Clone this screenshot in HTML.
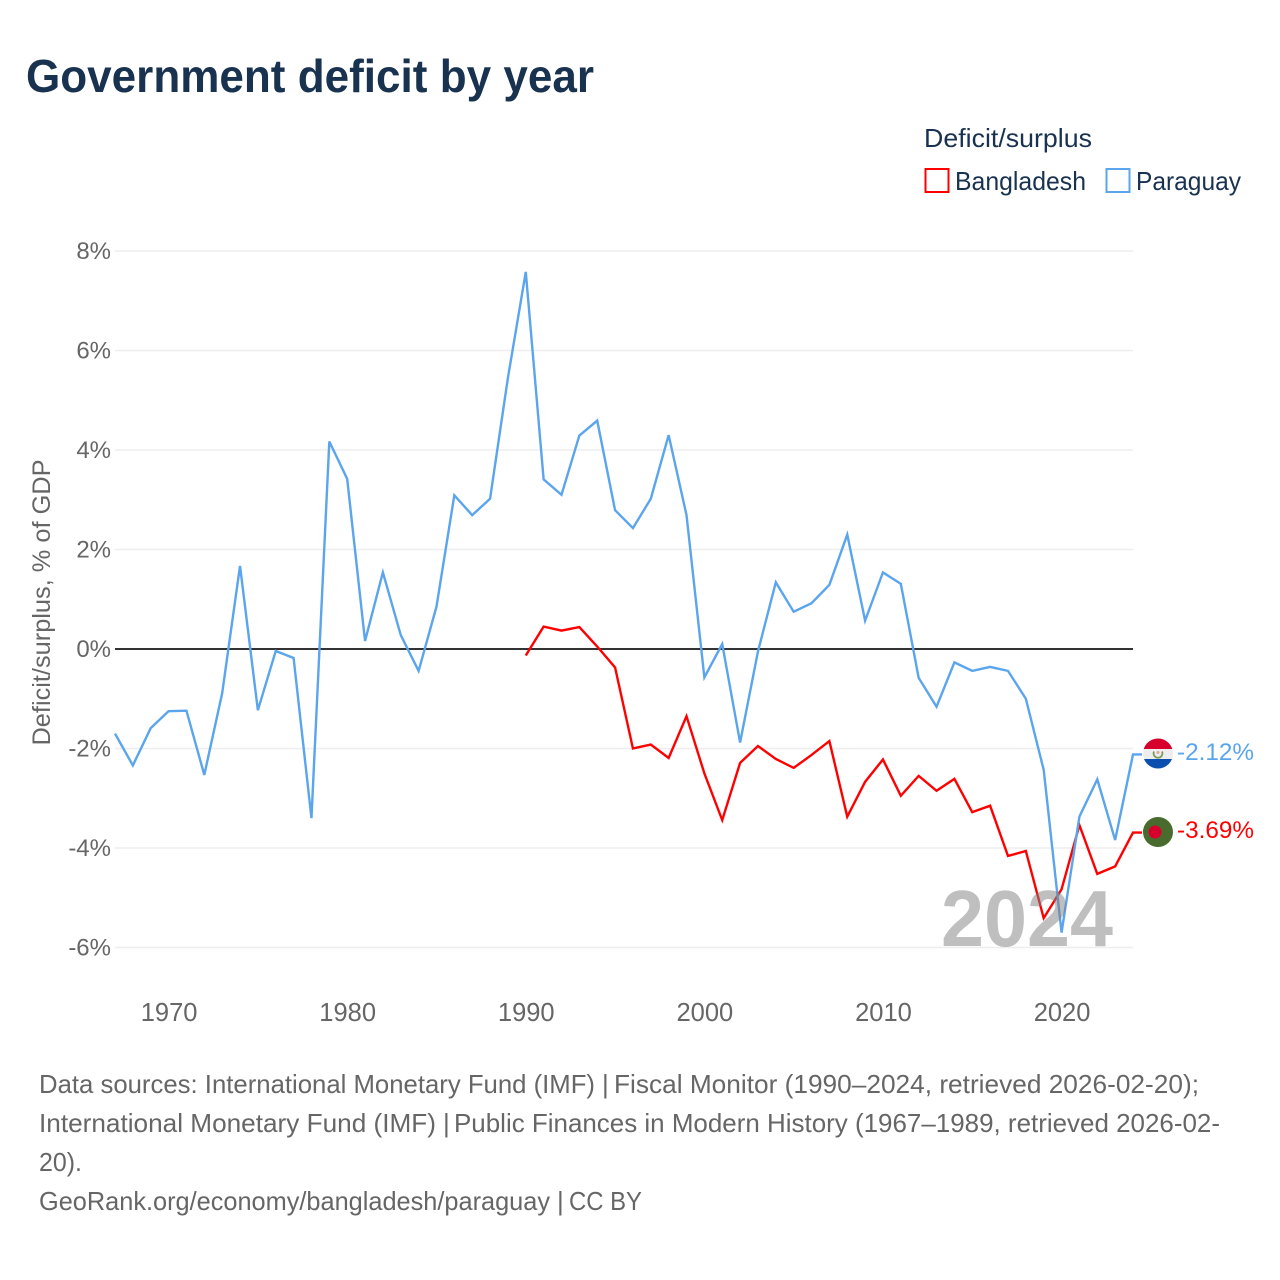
<!DOCTYPE html>
<html lang="en">
<head>
<meta charset="utf-8">
<title>Government deficit by year</title>
<style>
html,body{margin:0;padding:0;background:#fff;}
svg{display:block;font-family:"Liberation Sans",sans-serif;}
</style>
</head>
<body>
<svg id="chart" xmlns="http://www.w3.org/2000/svg" width="1280" height="1280" viewBox="0 0 1280 1280">
  <defs>
    <clipPath id="clip-py"><circle cx="1158" cy="753.5" r="15"/></clipPath>
  </defs>
  <rect x="0" y="0" width="1280" height="1280" fill="#fff"/>
  <text x="26" y="92" font-size="46" font-weight="700" fill="#18324f" textLength="568" lengthAdjust="spacingAndGlyphs">Government deficit by year</text>

  <text x="924" y="147" font-size="26" fill="#18324f" textLength="168" lengthAdjust="spacingAndGlyphs">Deficit/surplus</text>
  <g>
    <rect x="925.5" y="169" width="23" height="23" fill="#fff" stroke="#ff0000" stroke-width="2"/>
    <text x="955" y="190" font-size="26" fill="#18324f" textLength="131" lengthAdjust="spacingAndGlyphs">Bangladesh</text>
  </g>
  <g>
    <rect x="1106.5" y="169" width="23" height="23" fill="#fff" stroke="#5aa5ed" stroke-width="2"/>
    <text x="1136" y="190" font-size="26" fill="#18324f" textLength="105" lengthAdjust="spacingAndGlyphs">Paraguay</text>
  </g>

  <g id="grid"></g>
  <g id="ytick"></g>
  <g id="xtick"></g>
  <text transform="translate(50,602.5) rotate(-90)" text-anchor="middle" font-size="25" fill="#666" textLength="286" lengthAdjust="spacingAndGlyphs">Deficit/surplus, % of GDP</text>

  <g id="series"></g>

  <text x="941" y="946" font-size="80" font-weight="700" fill="#808080" fill-opacity="0.5" textLength="172" lengthAdjust="spacingAndGlyphs">2024</text>

  <g clip-path="url(#clip-py)">
    <rect x="1143" y="738" width="30" height="11" fill="#d7002c"/>
    <rect x="1143" y="749" width="30" height="10" fill="#eeeeee"/>
    <rect x="1143" y="759" width="30" height="11" fill="#0a4fae"/>
    <path d="M1154 751.5 A4.4 4.4 0 1 0 1162 751.5" fill="none" stroke="#7d9a5a" stroke-width="1.8"/>
    <circle cx="1158" cy="752.5" r="1.5" fill="#e8a0a0"/>
  </g>
  <g>
    <circle cx="1158" cy="832" r="15" fill="#4a6b2e"/>
    <circle cx="1155" cy="832" r="6.5" fill="#d7002c"/>
  </g>

  <text x="1177" y="760" font-size="24.5" fill="#5aa5ed" textLength="77" lengthAdjust="spacingAndGlyphs">-2.12%</text>
  <text x="1177" y="838" font-size="24.5" fill="#ff0000" textLength="77" lengthAdjust="spacingAndGlyphs">-3.69%</text>

  <g font-size="26" fill="#666">
    <text x="39" y="1093" textLength="556" lengthAdjust="spacingAndGlyphs">Data sources: International Monetary Fund (IMF)</text>
    <text x="602" y="1093">|</text>
    <text x="614" y="1093" textLength="585" lengthAdjust="spacingAndGlyphs">Fiscal Monitor (1990–2024, retrieved 2026-02-20);</text>
    <text x="39" y="1132" textLength="397" lengthAdjust="spacingAndGlyphs">International Monetary Fund (IMF)</text>
    <text x="443" y="1132">|</text>
    <text x="454" y="1132" textLength="766" lengthAdjust="spacingAndGlyphs">Public Finances in Modern History (1967–1989, retrieved 2026-02-</text>
    <text x="39" y="1171" textLength="43" lengthAdjust="spacingAndGlyphs">20).</text>
    <text x="39" y="1210" textLength="511" lengthAdjust="spacingAndGlyphs">GeoRank.org/economy/bangladesh/paraguay</text>
    <text x="557" y="1210">|</text>
    <text x="569" y="1210" textLength="73" lengthAdjust="spacingAndGlyphs">CC BY</text>
  </g>
</svg>
<script>
const yTicks = [8, 6, 4, 2, 0, -2, -4, -6];
const xTicks = [1970, 1980, 1990, 2000, 2010, 2020];
const paraguayStartYear = 1967;
const paraguayValues = [
  -1.70, -2.34, -1.59, -1.25, -1.24, -2.53, -0.89, 1.67, -1.23, -0.04,
  -0.18, -3.40, 4.17, 3.42, 0.16, 1.54, 0.28, -0.44, 0.85, 3.09,
  2.69, 3.02, 5.45, 7.58, 3.41, 3.10, 4.29, 4.59, 2.79, 2.43,
  3.02, 4.30, 2.69, -0.57, 0.10, -1.88, -0.05, 1.34, 0.75, 0.92,
  1.29, 2.30, 0.57, 1.54, 1.31, -0.58, -1.16, -0.27, -0.44, -0.36,
  -0.44, -1.00, -2.43, -5.70, -3.37, -2.62, -3.84, -2.12
];
const bangladeshStartYear = 1990;
const bangladeshValues = [
  -0.13, 0.45, 0.37, 0.44, 0.05, -0.37, -2.00, -1.92, -2.19, -1.35,
  -2.50, -3.44, -2.29, -1.95, -2.21, -2.39, -2.13, -1.85, -3.37, -2.67,
  -2.22, -2.95, -2.55, -2.85, -2.61, -3.28, -3.15, -4.16, -4.06, -5.41,
  -4.83, -3.54, -4.52, -4.37, -3.69
];

const NS = 'http://www.w3.org/2000/svg';
const xScale = function (year) { return 115 + (year - 1967) * (1133 - 115) / (2024 - 1967); };
const yScale = function (v) { return 649 - v * 49.75; };
const gridLayer = document.getElementById('grid');
const yTickLayer = document.getElementById('ytick');
const xTickLayer = document.getElementById('xtick');
const seriesLayer = document.getElementById('series');

yTicks.filter(function (t) { return t !== 0; }).forEach(function (t) {
  const line = document.createElementNS(NS, 'line');
  
  
  line.setAttribute('x1', 115);
  line.setAttribute('x2', 1133);
  line.setAttribute('y1', yScale(t));
  line.setAttribute('y2', yScale(t));
  line.setAttribute('stroke', '#eeeeee');
  line.setAttribute('stroke-width', '1.5');
  gridLayer.appendChild(line);
});

yTicks.forEach(function (t) {
  const label = document.createElementNS(NS, 'text');
  
  
  label.setAttribute('x', 111);
  label.setAttribute('y', yScale(t) + 8);
  label.setAttribute('text-anchor', 'end');
  label.setAttribute('font-size', '24');
  label.setAttribute('fill', '#666');
  label.textContent = t + '%';
  yTickLayer.appendChild(label);
});

xTicks.forEach(function (t) {
  const label = document.createElementNS(NS, 'text');
  
  
  label.setAttribute('x', xScale(t) + 0.5);
  label.setAttribute('y', 1021);
  label.setAttribute('text-anchor', 'middle');
  label.setAttribute('font-size', '25.5');
  label.setAttribute('fill', '#666');
  label.textContent = t;
  xTickLayer.appendChild(label);
});

function drawSeries(name, startYear, values, color) {
  const pts = values.map(function (v, i) {
    return xScale(startYear + i).toFixed(2) + ',' + yScale(v).toFixed(2);
  });
  const last = values[values.length - 1];
  pts.push((xScale(startYear + values.length - 1) + 9).toFixed(2) + ',' + yScale(last).toFixed(2));
  const line = document.createElementNS(NS, 'polyline');
  
  
  line.setAttribute('points', pts.join(' '));
  line.setAttribute('fill', 'none');
  line.setAttribute('stroke', color);
  line.setAttribute('stroke-width', '2.4');
  line.setAttribute('stroke-linejoin', 'miter');
  seriesLayer.appendChild(line);
}

const zeroLine = document.createElementNS(NS, 'line');


zeroLine.setAttribute('x1', 115);
zeroLine.setAttribute('x2', 1133);
zeroLine.setAttribute('y1', yScale(0));
zeroLine.setAttribute('y2', yScale(0));
zeroLine.setAttribute('stroke', '#333333');
zeroLine.setAttribute('stroke-width', '2');
seriesLayer.appendChild(zeroLine);

drawSeries('bangladesh-line', bangladeshStartYear, bangladeshValues, '#ff0000');
drawSeries('paraguay-line', paraguayStartYear, paraguayValues, '#5aa5ed');
</script>
</body>
</html>
